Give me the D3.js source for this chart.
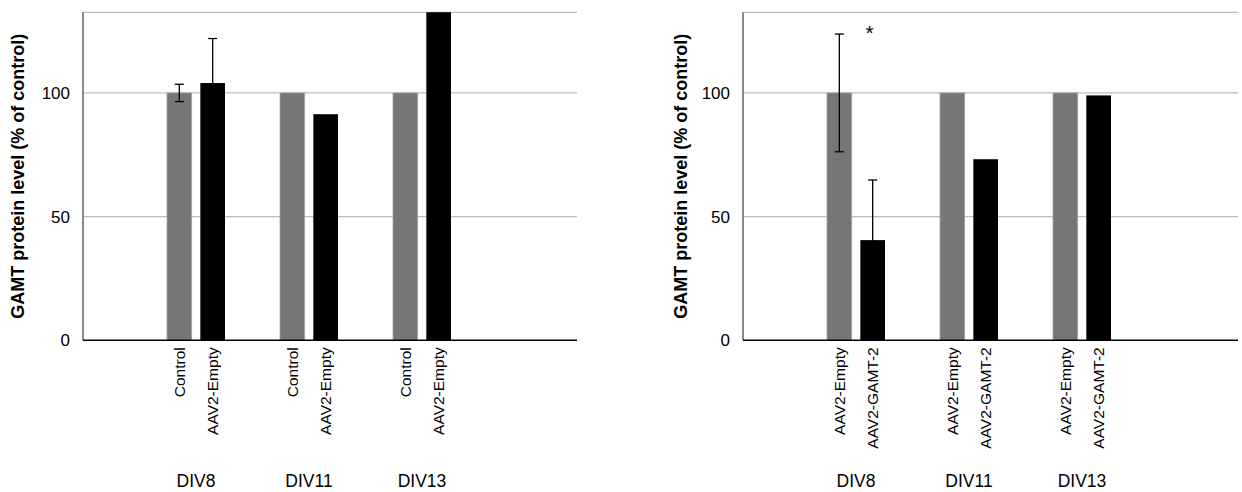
<!DOCTYPE html>
<html>
<head>
<meta charset="utf-8">
<title>GAMT protein level</title>
<script src="https://cdnjs.cloudflare.com/ajax/libs/d3/7.8.5/d3.min.js"></script>
<style>
body { margin: 0; background: #fff; }
text { font-family: "Liberation Sans", Arial, sans-serif; }
</style>
</head>
<body>
<div id="chart"></div>
<script>
// data
var groups = ["DIV8", "DIV11", "DIV13"];
var yTicks = [0, 50, 100];

var leftSeries = ["Control", "AAV2-Empty"];
var leftControl = [100, 100, 100];
var leftEmpty = [104, 91.4, 140];
var leftControlErr = [3.5, 0, 0];
var leftEmptyErr = [18, 0, 0];

var rightSeries = ["AAV2-Empty", "AAV2-GAMT-2"];
var rightEmpty = [100, 100, 100];
var rightGamt = [40.5, 73.2, 99];
var rightEmptyErr = [23.8, 0, 0];
var rightGamtErr = [24.3, 0, 0];
var rightStars = [{group: "DIV8", series: 1, y: 123, label: "*"}];

var W = 1242, H = 492;
var plotTop = 12.3, plotBottom = 340.3;
var colors = ["#767676", "#000000"];

var svg = d3.select("#chart").append("svg")
    .attr("width", W)
    .attr("height", H);

var yScale = d3.scaleLinear().domain([0, 132.6]).range([plotBottom, plotTop]);

function drawPanel(left, right, titleX, series, vals, errs, stars, id) {
    var g = svg.append("g");

    var x0 = d3.scaleBand().domain(groups)
        .range([left + 56.5, left + 395.5]);
    var x1 = d3.scaleBand().domain([0, 1])
        .range([27.5, 85.5]).paddingInner(0.26);
    var cx = d => x0(d.group) + x1(d.s) + x1.bandwidth() / 2;

    // clip for bars running past the top
    svg.append("clipPath").attr("id", "clip" + id)
       .append("rect")
       .attr("x", left).attr("y", plotTop)
       .attr("width", right - left).attr("height", plotBottom - plotTop);

    // gridlines + top border
    g.selectAll(".grid")
     .data(yTicks.filter(d => d > 0).concat([yScale.domain()[1]]))
     .enter().append("line")
     .attr("x1", left).attr("x2", right)
     .attr("y1", d => yScale(d)).attr("y2", d => yScale(d))
     .attr("stroke", "#bdbdbd")
     .attr("stroke-width", 1.3);

    // bars
    var rows = [];
    groups.forEach((grp, i) => {
        vals.forEach((arr, s) => {
            rows.push({group: grp, s: s, v: arr[i], e: errs[s][i]});
        });
    });

    g.append("g").attr("clip-path", "url(#clip" + id + ")")
     .selectAll("rect")
     .data(rows)
     .enter().append("rect")
     .attr("x", d => x0(d.group) + x1(d.s))
     .attr("width", x1.bandwidth())
     .attr("y", d => yScale(d.v))
     .attr("height", d => yScale(0) - yScale(d.v))
     .attr("fill", d => colors[d.s])
     .attr("stroke", d => d.s == 0 ? "#a3a3a3" : "none")
     .attr("stroke-width", 0.8);

    // error bars
    var eb = g.selectAll(".err")
     .data(rows.filter(d => d.e > 0))
     .enter().append("g");
    eb.append("line")
      .attr("x1", cx).attr("x2", cx)
      .attr("y1", d => yScale(d.v - d.e))
      .attr("y2", d => yScale(d.v + d.e))
      .attr("stroke", "#000").attr("stroke-width", 1.3);
    [-1, 1].forEach(sign => {
        eb.append("line")
          .attr("x1", d => cx(d) - 4.5)
          .attr("x2", d => cx(d) + 4.5)
          .attr("y1", d => yScale(d.v + sign * d.e))
          .attr("y2", d => yScale(d.v + sign * d.e))
          .attr("stroke", "#000").attr("stroke-width", 1.3);
    });

    // significance
    g.selectAll(".star")
     .data(stars)
     .enter().append("text")
     .attr("x", d => cx({group: d.group, s: d.series}) - 3)
     .attr("y", d => yScale(d.y) + 4)
     .attr("text-anchor", "middle")
     .attr("font-size", "21px")
     .text(d => d.label);

    // y axis
    g.append("line")
     .attr("x1", left).attr("x2", left)
     .attr("y1", plotTop).attr("y2", plotBottom)
     .attr("stroke", "#4d4d4d").attr("stroke-width", 1.3);

    g.selectAll(".ytick")
     .data(yTicks)
     .enter().append("text")
     .attr("x", left - 13)
     .attr("y", d => yScale(d))
     .attr("dy", "0.36em")
     .attr("text-anchor", "end")
     .attr("font-size", "17px")
     .text(d => d);

    // x axis
    g.append("line")
     .attr("x1", left).attr("x2", right)
     .attr("y1", yScale(0)).attr("y2", yScale(0))
     .attr("stroke", "#000").attr("stroke-width", 1.6);

    // rotated series labels
    g.selectAll(".xlab")
     .data(rows)
     .enter().append("text")
     .attr("transform", d => "translate(" + cx(d) + "," + (plotBottom + 7) + ") rotate(-90)")
     .attr("dy", "0.36em")
     .attr("text-anchor", "end")
     .attr("font-size", "15.5px")
     .text(d => series[d.s]);

    // group labels
    g.selectAll(".glab")
     .data(groups)
     .enter().append("text")
     .attr("x", d => x0(d) + x0.bandwidth() / 2)
     .attr("y", 487)
     .attr("text-anchor", "middle")
     .attr("font-size", "17.5px")
     .text(d => d);

    // y title
    g.append("text")
     .attr("transform", "translate(" + titleX + "," + (plotTop + plotBottom) / 2 + ") rotate(-90)")
     .attr("dy", "0.35em")
     .attr("text-anchor", "middle")
     .attr("font-size", "18px")
     .attr("font-weight", "bold")
     .text("GAMT protein level (% of control)");
}

drawPanel(83, 577, 18, leftSeries, [leftControl, leftEmpty], [leftControlErr, leftEmptyErr], [], "L");
drawPanel(743, 1238, 681, rightSeries, [rightEmpty, rightGamt], [rightEmptyErr, rightGamtErr], rightStars, "R");
</script>
</body>
</html>
